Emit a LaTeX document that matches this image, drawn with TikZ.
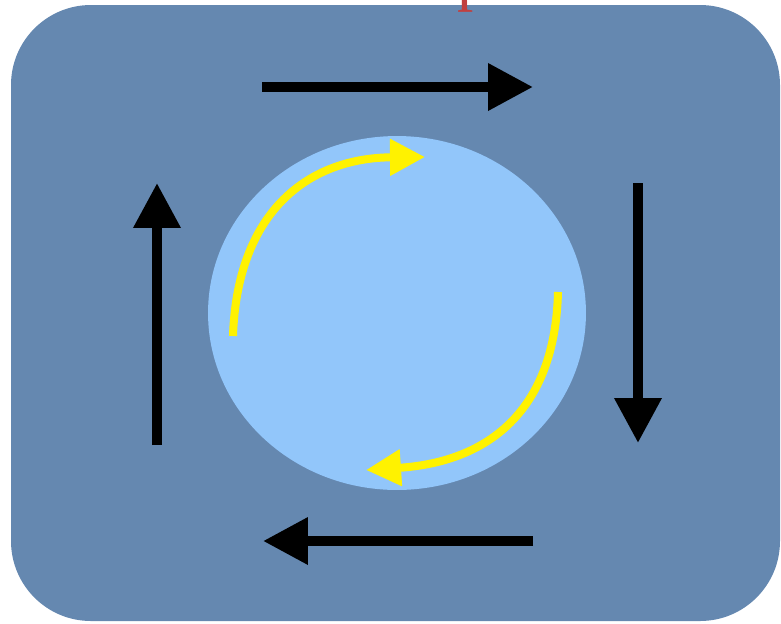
\documentclass[tikz,border=0pt]{standalone}
\usepackage{fontspec}
\newfontfamily\titlefont{Liberation Serif}
\usetikzlibrary{arrows.meta,shapes.geometric}
\definecolor{panelblue}{RGB}{101,136,176}
\definecolor{discblue}{RGB}{146,198,250}
\definecolor{titlered}{RGB}{192,64,64}

\begin{document}
\begin{tikzpicture}[x=0.02cm,y=-0.02cm]
	\tikzstyle{flow} = [line width=0.2cm, -{Triangle[length=0.9cm,width=0.9cm]}];
	\tikzstyle{spin} = [yellow, line width=0.16cm, -{Triangle[length=0.7cm,width=0.7cm]}];
	
	\useasboundingbox (0,0) rectangle (781,623);
	\clip (0,0) rectangle (781,623);
	\fill[panelblue, rounded corners=1.6cm] (11,5) rectangle (780,621);
	
	\node[anchor=base west, inner sep=0pt, text=titlered, font=\titlefont\fontsize{37}{40}\selectfont] (title) at (457,-2) {p};
	
	\node[ellipse, fill=discblue, inner sep=0pt, minimum width=7.56cm, minimum height=7.08cm] (disc) at (397,313) {};
	
	% outer flow
	\coordinate (topA) at (262,87);
	\coordinate (topB) at (533,87);
	\coordinate (rightA) at (638,183);
	\coordinate (rightB) at (638,443);
	\coordinate (botA) at (533,541);
	\coordinate (botB) at (263,541);
	\coordinate (leftA) at (157,445);
	\coordinate (leftB) at (157,183);
	
	\draw[flow] (topA) -- (topB);
	\draw[flow] (rightA) -- (rightB);
	\draw[flow] (botA) -- (botB);
	\draw[flow] (leftA) -- (leftB);
	
	% spin inside the disc
	\coordinate (spinA) at (233,336);
	\coordinate (spinB) at (425,157);
	\coordinate (spinC) at (558,292);
	\coordinate (spinD) at (366,470);
	
	\draw[spin] (spinA) .. controls (237,215) and (305,158) .. (spinB);
	\draw[spin] (spinC) .. controls (555,412) and (487,462) .. (spinD);
\end{tikzpicture}
\end{document}
